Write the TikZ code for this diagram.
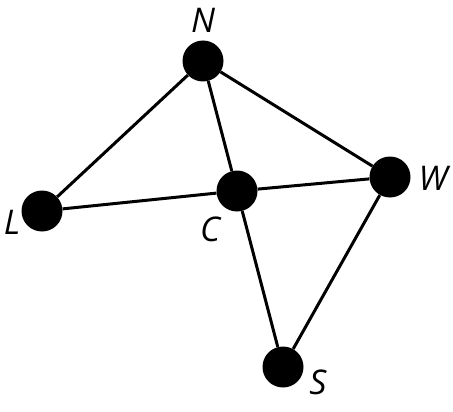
\documentclass[tikz,border=0pt]{standalone}
\usepackage{fontspec}
\setmainfont{Open Sans}
\begin{document}
\begin{tikzpicture}[x=1pt,y=-1pt,
  vtx/.style={circle,fill=black,inner sep=0pt,minimum size=41pt},
  lbl/.style={font=\fontsize{34}{34}\selectfont\itshape,inner sep=0pt},
  edge/.style={line width=3pt}]
\useasboundingbox (0,0) rectangle (453,412);
\node[vtx] (N) at (203,61) {};
\node[vtx] (L) at (42,211) {};
\node[vtx] (C) at (237,191) {};
\node[vtx] (W) at (390,177) {};
\node[vtx] (S) at (283,367) {};
\draw[edge] (N) -- (L);
\draw[edge] (N) -- (C);
\draw[edge] (N) -- (W);
\draw[edge] (L) -- (C);
\draw[edge] (C) -- (W);
\draw[edge] (C) -- (S);
\draw[edge] (W) -- (S);
\node[lbl] (tN) at (203,20) {N};
\node[lbl] (tL) at (12,222) {L};
\node[lbl] (tC) at (210,229) {C};
\node[lbl] (tW) at (433,178) {W};
\node[lbl] (tS) at (318,382) {S};
\end{tikzpicture}
\end{document}
